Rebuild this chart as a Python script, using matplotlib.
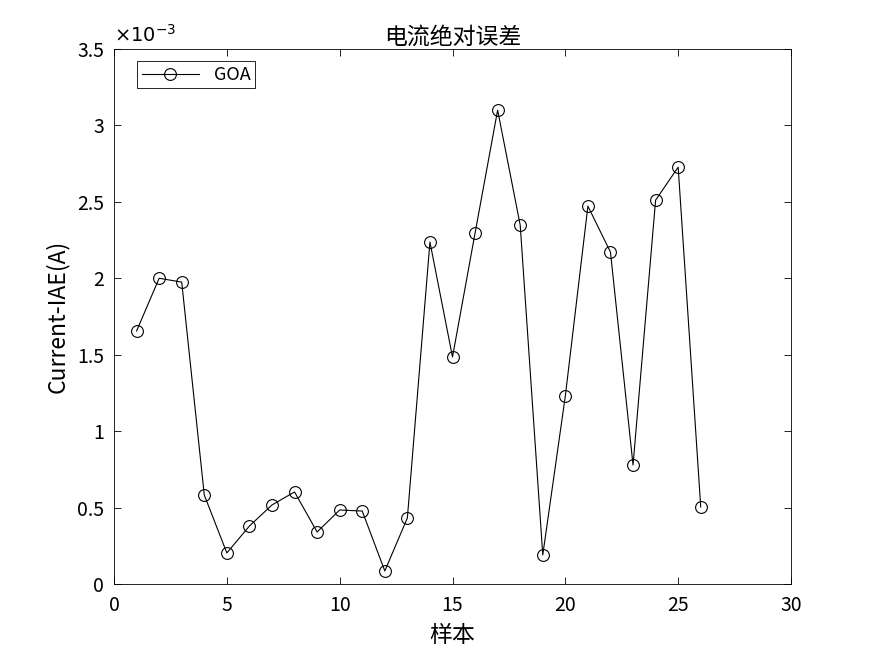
import numpy as np
import matplotlib.pyplot as plt
from matplotlib.ticker import FuncFormatter, MultipleLocator

plt.rcParams['font.family'] = ['Noto Sans CJK SC', 'DejaVu Sans']
plt.rcParams['axes.unicode_minus'] = False

# samples and absolute current error (x 1e-3 A)
samples = np.arange(1, 27)
iae_e3 = [1.655, 2.000, 1.975, 0.582, 0.203, 0.379, 0.517, 0.602, 0.340, 0.484,
          0.477, 0.085, 0.432, 2.237, 1.485, 2.296, 3.100, 2.348, 0.190, 1.230,
          2.472, 2.171, 0.778, 2.511, 2.727, 0.504]
iae = np.array(iae_e3) * 1e-3

fig = plt.figure(figsize=(8.75, 6.56), dpi=100)
ax = fig.add_axes([0.1303, 0.1098, 0.7737, 0.8155])

ax.plot(samples, iae, color='black', linewidth=0.8, marker='o', markersize=8.5,
        markerfacecolor='none', markeredgewidth=0.8, label='GOA')

ax.set_xlim(0, 30)
ax.set_ylim(0, 3.5e-3)
ax.xaxis.set_major_locator(MultipleLocator(5))
ax.yaxis.set_major_locator(MultipleLocator(0.5e-3))
ax.yaxis.set_major_formatter(FuncFormatter(lambda v, p: '%g' % round(v * 1e3, 3)))
ax.text(0.0, 1.005, r'$\times10^{-3}$', transform=ax.transAxes, fontsize=14,
        ha='left', va='bottom')

ax.tick_params(direction='in', top=True, right=True, labelsize=14, length=5,
               width=0.6)
ax.tick_params(axis='x', pad=8)
ax.tick_params(axis='y', pad=7)
for s in ax.spines.values():
    s.set_linewidth(0.6)

ax.set_title('电流绝对误差', fontsize=16.5, pad=4)
ax.set_xlabel('样本', fontsize=16.5, labelpad=6)
ax.set_ylabel('Current-IAE(A)', fontsize=16.5, labelpad=6)

leg = ax.legend(loc='upper left', fontsize=13, fancybox=False, framealpha=1,
                edgecolor='black', borderpad=0.25, handlelength=3.2,
                borderaxespad=0.0, bbox_to_anchor=(0.034, 0.977))
leg.get_frame().set_linewidth(0.6)

fig.savefig('out.png', dpi=100)
